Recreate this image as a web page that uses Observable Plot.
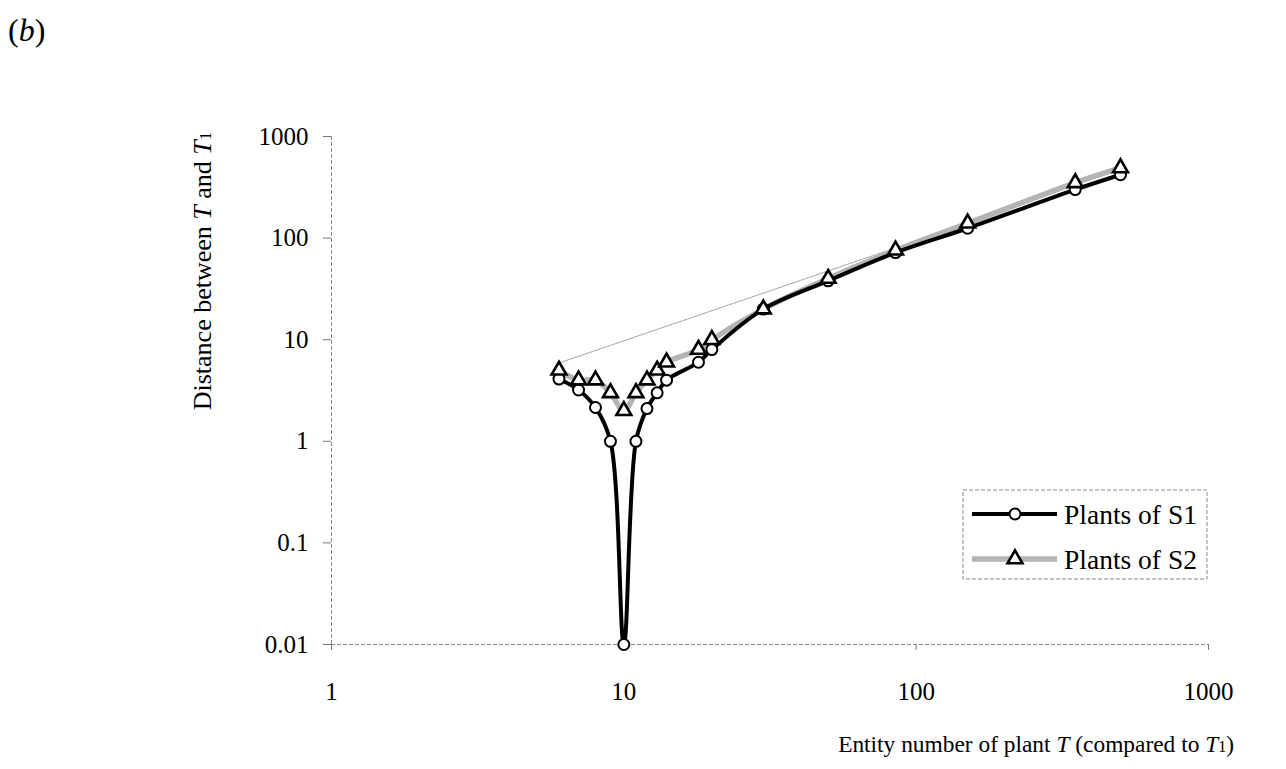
<!DOCTYPE html>
<html>
<head>
<meta charset="utf-8">
<script src="https://cdn.jsdelivr.net/npm/d3@7"></script>
<script src="https://cdn.jsdelivr.net/npm/@observablehq/plot@0.6"></script>
<style>
  html, body { margin: 0; padding: 0; background: #fff; }
  #chart { position: relative; width: 1286px; height: 769px; }
</style>
</head>
<body>
<div id="chart"></div>
<script>
// Entity number of plant T (compared to T1)
const entityNumbers = [6, 7, 8, 9, 10, 11, 12, 13, 14, 18, 20, 30, 50, 85, 150, 350, 500];
// Distance between T and T1
const distanceS1 = [4.1, 3.2, 2.15, 1, 0.01, 1, 2.1, 3, 4, 6, 8, 20, 38, 72, 125, 300, 420];
const distanceS2 = [5, 4, 4, 3, 2, 3, 4, 5, 6, 8, 10, 20, 40, 76, 140, 350, 490];
// faint trace drawn by the S2 series from its first point
const traceX = [6, 150];
const traceY = [5.9, 140];

const xTicks = [1, 10, 100, 1000];
const yTicks = [0.01, 0.1, 1, 10, 100, 1000];
const xTickLabels = ["1", "10", "100", "1000"];
const yTickLabels = ["0.01", "0.1", "1", "10", "100", "1000"];
const seriesNames = ["Plants of S1", "Plants of S2"];

const s1 = entityNumbers.map((x, i) => ({x, y: distanceS1[i]}));
const s2 = entityNumbers.map((x, i) => ({x, y: distanceS2[i]}));
const trace = traceX.map((x, i) => ({x, y: traceY[i]}));

const FONT = "'Liberation Serif', 'DejaVu Serif', serif";

const svg = Plot.plot({
  width: 1286,
  height: 769,
  marginLeft: 331,
  marginRight: 78,
  marginTop: 136,
  marginBottom: 125,
  style: {fontFamily: FONT, fontSize: "25px", background: "#fff", color: "#000"},
  x: {type: "log", domain: [1, 1000]},
  y: {type: "log", domain: [0.01, 1000]},
  marks: [
    Plot.ruleY([0.01], {stroke: "#8a8a8a", strokeWidth: 1, strokeDasharray: "4,2"}),
    Plot.ruleX([1], {stroke: "#8a8a8a", strokeWidth: 1, strokeDasharray: "4,2"}),
    Plot.axisX({ticks: xTicks, tickFormat: (d) => xTickLabels[xTicks.indexOf(d)], tickSize: 6, tickPadding: 32,
      stroke: "#777", fill: "#000", fontSize: 25, label: null}),
    Plot.axisY({ticks: yTicks, tickFormat: (d) => yTickLabels[yTicks.indexOf(d)], tickSize: 8, tickPadding: 15,
      stroke: "#777", fill: "#000", fontSize: 25, label: null}),
    Plot.line(trace, {x: "x", y: "y", stroke: "#a0a0a0", strokeWidth: 1, strokeDasharray: "3,1"}),
    Plot.line(s2, {x: "x", y: "y", stroke: "#b4b4b4", strokeWidth: 5.5, curve: "catmull-rom"}),
    Plot.line(s1, {x: "x", y: "y", stroke: "#000", strokeWidth: 4, curve: "catmull-rom"}),
    Plot.dot(s1, {x: "x", y: "y", r: 5.5, fill: "#fff", stroke: "#000", strokeWidth: 2}),
    Plot.dot(s2, {x: "x", y: "y", symbol: "triangle", r: 5.5, fill: "#fff", stroke: "#000", strokeWidth: 2.6})
  ]
});

document.getElementById("chart").appendChild(svg);

const root = d3.select(svg);

// panel label
const pl = root.append("text").attr("x", 8).attr("y", 41)
  .attr("text-anchor", "start")
  .style("font-family", FONT).style("font-size", "32px").attr("fill", "#000");
pl.append("tspan").text("(");
pl.append("tspan").style("font-style", "italic").text("b");
pl.append("tspan").text(")");

// y axis title
const yt = root.append("text")
  .attr("transform", "translate(211,271) rotate(-90)")
  .attr("text-anchor", "middle")
  .style("font-family", FONT).style("font-size", "26px").attr("fill", "#000");
yt.append("tspan").text("Distance between ");
yt.append("tspan").style("font-style", "italic").text("T");
yt.append("tspan").text(" and ");
yt.append("tspan").style("font-style", "italic").text("T");
yt.append("tspan").style("font-size", "17px").text("1");

// x axis title
const xt = root.append("text")
  .attr("x", 1234).attr("y", 752)
  .attr("text-anchor", "end")
  .style("font-family", FONT).style("font-size", "23.4px").attr("fill", "#000");
xt.append("tspan").text("Entity number of plant ");
xt.append("tspan").style("font-style", "italic").text("T");
xt.append("tspan").text(" (compared to ");
xt.append("tspan").style("font-style", "italic").text("T");
xt.append("tspan").style("font-size", "16px").text("1");
xt.append("tspan").text(")");

// legend
const lg = root.append("g");
lg.append("rect").attr("x", 963).attr("y", 490).attr("width", 244).attr("height", 89)
  .attr("fill", "#fff").attr("stroke", "#8a8a8a").attr("stroke-width", 1).attr("stroke-dasharray", "4,2");
const rows = [
  {y: 514, stroke: "#000", width: 4, symbol: d3.symbolCircle},
  {y: 559, stroke: "#b4b4b4", width: 5.5, symbol: d3.symbolTriangle}
];
rows.forEach((r, i) => {
  lg.append("line").attr("x1", 972).attr("x2", 1057).attr("y1", r.y).attr("y2", r.y)
    .attr("stroke", r.stroke).attr("stroke-width", r.width);
  const size = Math.PI * 5.5 * 5.5;
  lg.append("path").attr("d", d3.symbol(r.symbol, size)())
    .attr("transform", `translate(1015,${r.y})`)
    .attr("fill", "#fff").attr("stroke", "#000").attr("stroke-width", i === 0 ? 2 : 2.6);
  lg.append("text").attr("x", 1064).attr("y", r.y + 9.5)
    .attr("text-anchor", "start")
    .style("font-family", FONT).style("font-size", "27.5px").attr("fill", "#000")
    .text(seriesNames[i]);
});
</script>
</body>
</html>
